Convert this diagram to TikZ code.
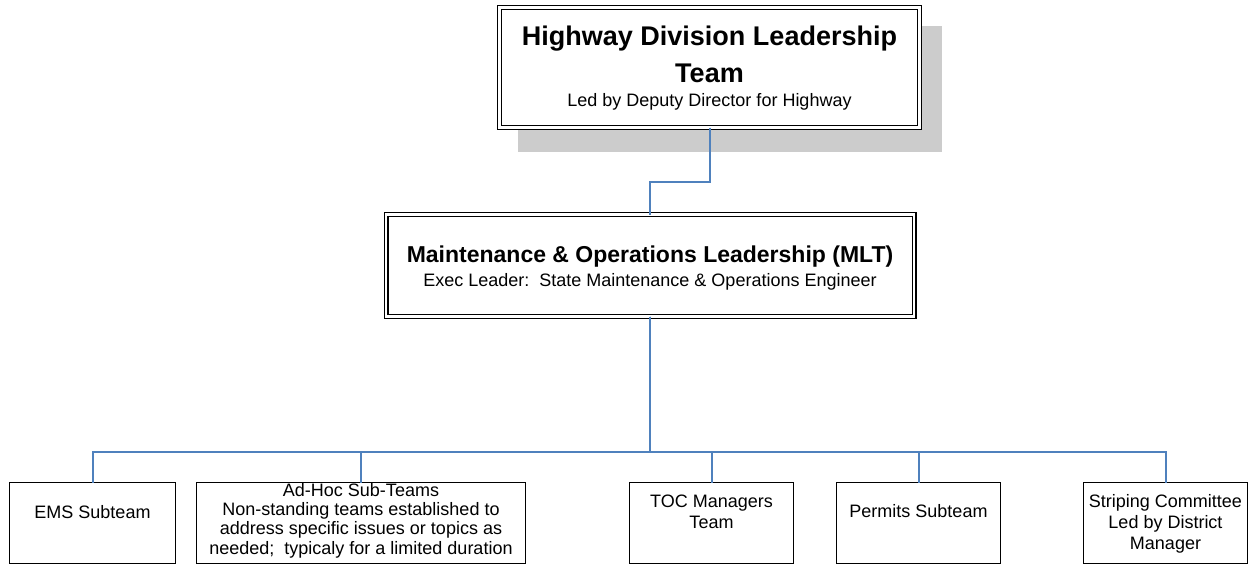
\documentclass[tikz,border=0pt]{standalone}
\usepackage{fontspec}
\setmainfont{Liberation Sans}
\usetikzlibrary{calc}
\definecolor{shadowgray}{RGB}{204,204,204}
\definecolor{connblue}{RGB}{79,129,189}
\begin{document}
\begin{tikzpicture}[x=1pt,y=-1pt,
  leadbox/.style={draw=black, double=white, line width=1.3pt, double distance=2.4pt, fill=white, inner sep=0pt, outer sep=0pt},
  subbox/.style={draw=black, line width=1pt, fill=white, inner sep=0pt, outer sep=0pt, minimum height=81pt},
  lbl/.style={font=\fontsize{18}{21}\selectfont, align=center, inner sep=0pt, anchor=base},
  conn/.style={draw=connblue, line width=2pt}]
\useasboundingbox (0,0) rectangle (1259,565);
% shadow of the top box
\fill[shadowgray] (518,26) rectangle (942,152);
% boxes
\node[leadbox, minimum width=420pt, minimum height=120pt] (hdlt) at (709.5,67.5) {};
\node[leadbox, minimum width=528pt, minimum height=102pt] (mlt) at (650,265.5) {};
\node[subbox, minimum width=166pt] (ems) at (92.5,523) {};
\node[subbox, minimum width=329pt] (adhoc) at (361,523) {};
\node[subbox, minimum width=164pt] (toc) at (711.5,523) {};
\node[subbox, minimum width=164pt] (permits) at (918.5,523) {};
\node[subbox, minimum width=164pt] (striping) at (1165.5,523) {};
% texts (base anchor = baseline of the last line)
\node[lbl, font=\bfseries\fontsize{27}{37}\selectfont] (hdltT) at (709.5,82) {Highway Division Leadership\\Team};
\node[lbl] (hdltS) at (709.5,106) {Led by Deputy Director for Highway};
\node[lbl, font=\bfseries\fontsize{23}{27}\selectfont] (mltT) at (650,262) {Maintenance \& Operations Leadership (MLT)};
\node[lbl] (mltS) at (650,286) {Exec Leader:\ \ State Maintenance \& Operations Engineer};
\node[lbl] (emsT) at (92.5,518) {EMS Subteam};
\node[lbl, font=\fontsize{18}{19.3}\selectfont] (adhocT) at (361,554) {Ad-Hoc Sub-Teams\\Non-standing teams established to\\address specific issues or topics as\\needed;\ \ typicaly for a limited duration};
\node[lbl] (tocT) at (711.5,528) {TOC Managers\\Team};
\node[lbl] (permitsT) at (918.5,517) {Permits Subteam};
\node[lbl] (stripingT) at (1165.5,549) {Striping Committee\\Led by District\\Manager};
% connectors
\coordinate (j1) at (0,182);
\coordinate (bus) at (0,452);
\draw[conn] (hdlt.south) |- (mlt.north |- j1) -- (mlt.north);
\foreach \c in {ems,adhoc,toc,permits,striping}
  \draw[conn] (mlt.south) -- (mlt.south |- bus) -| (\c.north);
\end{tikzpicture}
\end{document}
